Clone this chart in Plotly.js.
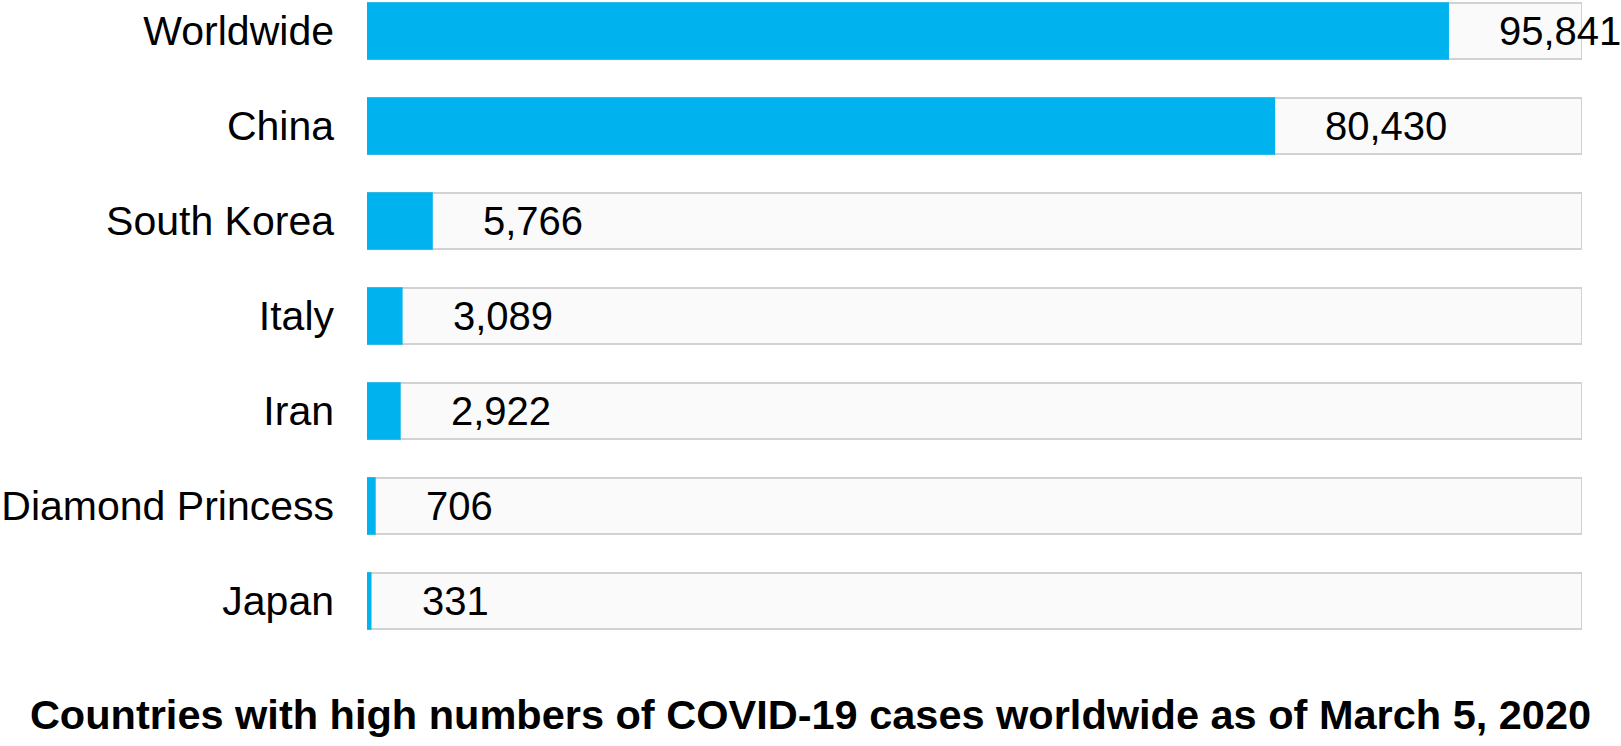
<!DOCTYPE html>
<html>
<head>
<meta charset="utf-8">
<script src="https://cdn.plot.ly/plotly-3.0.1.min.js"></script>
<style>
  html, body { margin: 0; padding: 0; background: #ffffff; }
  #chart { width: 1621px; height: 746px; }
</style>
</head>
<body>
<div id="chart"></div>
<script>
const categories = ["Worldwide", "China", "South Korea", "Italy", "Iran", "Diamond Princess", "Japan"];
const cases = [95841, 80430, 5766, 3089, 2922, 706, 331];
const trackMax = 107700;
const chartTitle = "Countries with high numbers of COVID-19 cases worldwide as of March 5, 2020";

const FONT = "Liberation Sans, Arial, Helvetica, sans-serif";

const trackTrace = {
  type: "bar",
  orientation: "h",
  y: categories,
  x: categories.map(() => trackMax),
  marker: { color: "#fafafa", line: { color: "#d2d2d2", width: 2 } },
  hoverinfo: "skip",
  showlegend: false
};

const valueTrace = {
  type: "bar",
  orientation: "h",
  y: categories,
  x: cases,
  marker: { color: "#00b3ee", line: { color: "#00b3ee", width: 1.5 }, cornerradius: 3 },
  showlegend: false
};

const annotations = categories.map((c, i) => ({
  x: cases[i],
  y: c,
  xref: "x",
  yref: "y",
  text: cases[i].toLocaleString("en-US"),
  showarrow: false,
  xanchor: "left",
  yanchor: "middle",
  xshift: 49,
  font: { family: FONT, size: 40, color: "#000000" }
}));

const layout = {
  width: 1621,
  height: 746,
  margin: { l: 367, r: 39, t: 0, b: 96, pad: 0 },
  paper_bgcolor: "#ffffff",
  plot_bgcolor: "#ffffff",
  barmode: "overlay",
  bargap: 0.41,
  showlegend: false,
  title: {
    text: "<b>" + chartTitle + "</b>",
    font: { family: FONT, size: 41.5, color: "#000000" },
    x: 0.5,
    xref: "container",
    xanchor: "center",
    y: (746 - 714) / 746,
    yref: "container",
    yanchor: "middle"
  },
  xaxis: {
    range: [0, trackMax],
    showgrid: false,
    zeroline: false,
    showline: false,
    showticklabels: false,
    ticks: ""
  },
  yaxis: {
    type: "category",
    range: [6.517, -0.327],
    showgrid: false,
    zeroline: false,
    showline: false,
    ticks: "",
    ticklabelstandoff: 32,
    tickfont: { family: FONT, size: 41, color: "#000000" }
  },
  annotations: annotations
};

Plotly.newPlot("chart", [trackTrace, valueTrace], layout, { displayModeBar: false, staticPlot: true });
</script>
</body>
</html>
